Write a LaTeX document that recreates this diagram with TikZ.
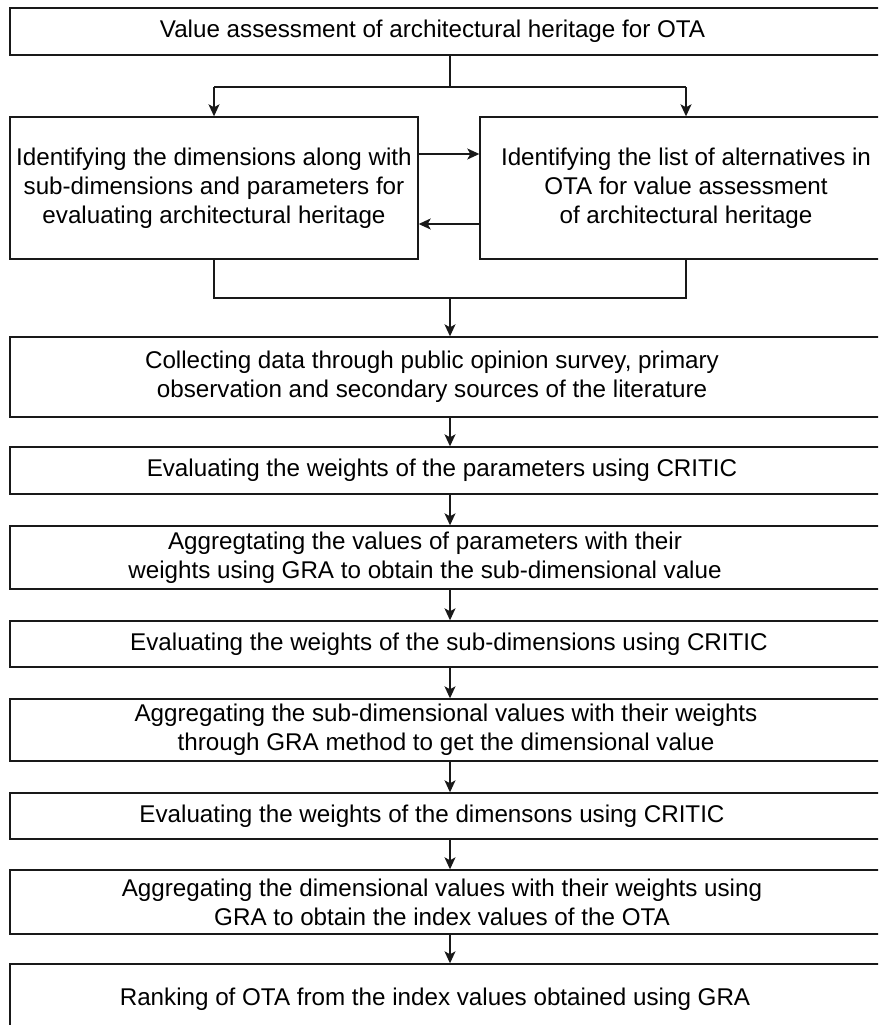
\documentclass[tikz,border=0pt]{standalone}
\usepackage{fontspec}
\setmainfont{Liberation Sans}
\usetikzlibrary{arrows.meta}
\begin{document}
\begin{tikzpicture}[x=1pt,y=1pt,
  box/.style={draw=black!90, line width=1.4pt, inner sep=0pt},
  txt/.style={font=\fontsize{24.2}{28.8}\selectfont, align=center, inner sep=0pt, text=black},
  arr/.style={draw=black!90, line width=1.4pt, -{Stealth[length=12pt,width=11pt,inset=3pt]}},
  ln/.style={draw=black!90, line width=1.4pt}]
\useasboundingbox (0,0) rectangle (878,-1025);
\clip (0,0) rectangle (878,-1025);
\fill[white] (0,0) rectangle (878,-1025);

\node[box, minimum width=880, minimum height=47, label={[txt,xshift=-17.5]center:Value assessment of architectural heritage for OTA}] (b1) at (450,-31.5) {};

\node[box, minimum width=408, minimum height=142, label={[txt]center:Identifying the dimensions along with\\sub-dimensions and parameters for\\evaluating architectural heritage}] (bl) at (214,-188) {};
\node[box, minimum width=412, minimum height=142, label={[txt]center:Identifying the list of alternatives in\\OTA for value assessment\\of architectural heritage}] (br) at (686,-188) {};

\node[box, minimum width=880, minimum height=80, label={[txt,xshift=-18]center:Collecting data through public opinion survey, primary\\observation and secondary sources of the literature}] (b3) at (450,-377) {};
\node[box, minimum width=880, minimum height=47, label={[txt,xshift=-8]center:Evaluating the weights of the parameters using CRITIC}] (b4) at (450,-470.5) {};
\node[box, minimum width=880, minimum height=63, label={[txt,xshift=-25]center:Aggregtating the values of parameters with their\\weights using GRA to obtain the sub-dimensional value}] (b5) at (450,-557.5) {};
\node[box, minimum width=880, minimum height=46, label={[txt,xshift=-1]center:Evaluating the weights of the sub-dimensions using CRITIC}] (b6) at (450,-644) {};
\node[box, minimum width=880, minimum height=62, label={[txt,xshift=-4]center:Aggregating the sub-dimensional values with their weights\\through GRA method to get the dimensional value}] (b7) at (450,-730) {};
\node[box, minimum width=880, minimum height=46, label={[txt,xshift=-18]center:Evaluating the weights of the dimensons using CRITIC}] (b8) at (450,-816) {};
\node[box, minimum width=880, minimum height=64, label={[txt,xshift=-8]center:Aggregating the dimensional values with their weights using\\GRA to obtain the index values of the OTA}] (b9) at (450,-902) {};
\node[box, minimum width=880, minimum height=70, label={[txt,xshift=-15]center:Ranking of OTA from the index values obtained using GRA}] (b10) at (450,-999) {};

% split from top
\coordinate (s1) at (450,-87);
\coordinate (sl) at (bl.north |- s1);
\coordinate (sr) at (br.north |- s1);
\draw[ln] (b1.south) -- (s1);
\draw[ln] (sl) -- (sr);
\draw[arr] (sl) -- (bl.north);
\draw[arr] (sr) -- (br.north);

% cross arrows
\draw[arr] ([yshift=34]bl.east) -- ([yshift=34]br.west);
\draw[arr] ([yshift=-36]br.west) -- ([yshift=-36]bl.east);

% merge
\coordinate (m1) at (450,-298);
\coordinate (ml) at (bl.south |- m1);
\coordinate (mr) at (br.south |- m1);
\draw[ln] (bl.south) -- (ml) -- (mr) -- (br.south);
\draw[arr] (m1) -- (b3.north);

\draw[arr] (b3.south) -- (b4.north);
\draw[arr] (b4.south) -- (b5.north);
\draw[arr] (b5.south) -- (b6.north);
\draw[arr] (b6.south) -- (b7.north);
\draw[arr] (b7.south) -- (b8.north);
\draw[arr] (b8.south) -- (b9.north);
\draw[arr] (b9.south) -- (b10.north);
\end{tikzpicture}
\end{document}
